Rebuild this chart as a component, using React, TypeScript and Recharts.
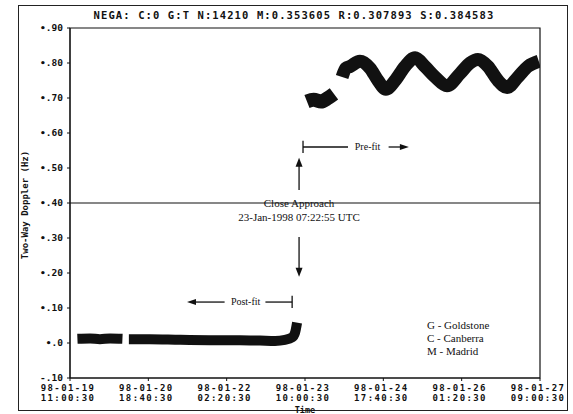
import React from "react";
import {
  ComposedChart,
  Line,
  XAxis,
  YAxis,
  ReferenceLine,
  ReferenceDot,
  ReferenceArea,
} from "recharts";

// hours since 98-01-19 11:00:30
const xTicks = [0, 31.667, 63.333, 95, 126.667, 158.333, 190];
const tickDates = ["98-01-19", "98-01-20", "98-01-22", "98-01-23", "98-01-24", "98-01-26", "98-01-27"];
const tickTimes = ["11:00:30", "18:40:30", "02:20:30", "10:00:30", "17:40:30", "01:20:30", "09:00:30"];

const yTicks = [-0.1, 0, 0.1, 0.2, 0.3, 0.4, 0.5, 0.6, 0.7, 0.8, 0.9];
const yLabels = ["-.10", "•.0", "•.10", "•.20", "•.30", "•.40", "•.50", "•.60", "•.70", "•.80", "•.90"];

const postFitA = [
  { t: 3.0, v: 0.012 },
  { t: 8.1, v: 0.013 },
  { t: 12.1, v: 0.011 },
  { t: 16.2, v: 0.013 },
  { t: 21.2, v: 0.012 },
];
const postFitB = [
  { t: 23.8, v: 0.011 },
  { t: 32.3, v: 0.011 },
  { t: 44.5, v: 0.009 },
  { t: 56.6, v: 0.008 },
  { t: 68.7, v: 0.008 },
  { t: 76.8, v: 0.007 },
  { t: 82.9, v: 0.006 },
  { t: 86.9, v: 0.009 },
  { t: 89.8, v: 0.016 },
  { t: 91.0, v: 0.03 },
  { t: 91.8, v: 0.058 },
];
const preFitA = [
  { t: 95.8, v: 0.69 },
  { t: 98.5, v: 0.695 },
  { t: 101.5, v: 0.69 },
  { t: 104.3, v: 0.7 },
  { t: 106.7, v: 0.712 },
];
const preFitB = [
  { t: 110.0, v: 0.76 },
  { t: 111.5, v: 0.785 },
  { t: 113.2, v: 0.79 },
  { t: 117.2, v: 0.805 },
  { t: 121.3, v: 0.785 },
  { t: 124.5, v: 0.75 },
  { t: 127.7, v: 0.725 },
  { t: 131.4, v: 0.75 },
  { t: 135.4, v: 0.79 },
  { t: 139.5, v: 0.815 },
  { t: 143.5, v: 0.79 },
  { t: 147.6, v: 0.76 },
  { t: 152.4, v: 0.735 },
  { t: 157.7, v: 0.77 },
  { t: 161.7, v: 0.8 },
  { t: 164.9, v: 0.81 },
  { t: 169.0, v: 0.79 },
  { t: 173.0, v: 0.75 },
  { t: 176.7, v: 0.73 },
  { t: 181.1, v: 0.76 },
  { t: 185.1, v: 0.79 },
  { t: 189.5, v: 0.805 },
];

const closeApproach = 92.6;
const stations = ["G - Goldstone", "C - Canberra", "M - Madrid"];

const mono = "'DejaVu Sans Mono', monospace";
const serif = "'Liberation Serif', serif";

const XTick = (props: any) => {
  const { x, y, index } = props;
  const style = { fontFamily: mono, fontWeight: "bold" as const, fontSize: 9, letterSpacing: 1.4 };
  return (
    <g fill="#111">
      <text x={x - 2} y={y + 8} textAnchor="middle" style={style}>
        {tickDates[index]}
      </text>
      <text x={x - 2} y={y + 17.5} textAnchor="middle" style={style}>
        {tickTimes[index]}
      </text>
    </g>
  );
};

const YTick = (props: any) => {
  const { x, y, index } = props;
  return (
    <text x={x - 2} y={y + 2.5} textAnchor="end" fontFamily={mono} fontWeight="bold" fontSize={9.5} fill="#111">
      {yLabels[index]}
    </text>
  );
};

const textAt = (s: string, anchor = "middle", size = 11) => (p: any) => (
  <text x={p.cx} y={p.cy} textAnchor={anchor} fontFamily={serif} fontSize={size} fill="#111">
    {s}
  </text>
);
const upHead = (p: any) => <path d={`M${p.cx},${p.cy} l-3.5,9 l7,0 z`} fill="#111" />;
const downHead = (p: any) => <path d={`M${p.cx},${p.cy} l-3.5,-9 l7,0 z`} fill="#111" />;
const leftHead = (p: any) => <path d={`M${p.cx},${p.cy} l9,-3 l0,6 z`} fill="#111" />;
const rightHead = (p: any) => <path d={`M${p.cx},${p.cy} l-9,-3 l0,6 z`} fill="#111" />;

const band = { stroke: "#111", dot: false, isAnimationActive: false, type: "monotone" as const, strokeLinejoin: "round" as const };

export default function App() {
  return (
    <div style={{ position: "relative", width: 573, height: 414, background: "#fff" }}>
      <style>{`body{margin:0}`}</style>
      <div
        style={{
          position: "absolute",
          left: 18,
          top: 5,
          width: 548,
          height: 404,
          border: "1.5px solid #222",
        }}
      />
      <div
        style={{
          position: "absolute",
          top: 9,
          left: 0,
          width: 588,
          textAlign: "center",
          fontFamily: mono,
          fontWeight: "bold",
          fontSize: 10.5,
          letterSpacing: 1.1,
          color: "#111",
          whiteSpace: "nowrap",
        }}
      >
        NEGA: C:0 G:T N:14210 M:0.353605 R:0.307893 S:0.384583
      </div>
      <ComposedChart
        width={573}
        height={414}
        margin={{ top: 28, right: 33, bottom: 6, left: 10 }}
        style={{ position: "absolute", left: 0, top: 0 }}
      >
        <XAxis
          dataKey="t"
          type="number"
          domain={[0, 190]}
          ticks={xTicks}
          tick={<XTick />}
          tickSize={3}
          height={30}
          stroke="#111"
          interval={0}
          allowDataOverflow
          label={{
            value: "Time",
            position: "insideBottom",
            offset: -5,
            style: { fontFamily: mono, fontWeight: "bold", fontSize: 8.5, fill: "#111" },
          }}
        />
        <YAxis
          type="number"
          domain={[-0.1, 0.9]}
          ticks={yTicks}
          tick={<YTick />}
          tickSize={3}
          width={60}
          stroke="#111"
          interval={0}
          label={{
            content: (p: any) => {
              const vb = p.viewBox;
              const cx = vb.x + 18;
              const cy = vb.y + vb.height / 2 + 2;
              return (
                <text
                  x={cx}
                  y={cy}
                  transform={`rotate(-90 ${cx} ${cy})`}
                  textAnchor="middle"
                  fontFamily={mono}
                  fontWeight="bold"
                  fontSize={9}
                  fill="#111"
                >
                  Two-Way Doppler (Hz)
                </text>
              );
            },
          }}
        />
        <ReferenceArea x1={0} x2={190} y1={-0.1} y2={0.9} fill="none" stroke="#111" strokeWidth={1.2} />
        <ReferenceLine y={0.4} stroke="#111" strokeWidth={1.2} />

        <Line data={postFitA} dataKey="v" strokeWidth={10} {...band} />
        <Line data={postFitB} dataKey="v" strokeWidth={10} {...band} />
        <Line data={preFitA} dataKey="v" strokeWidth={14} {...band} />
        <Line data={preFitB} dataKey="v" strokeWidth={13} {...band} />

        {/* close approach arrows and text */}
        <ReferenceLine segment={[{ x: closeApproach, y: 0.437 }, { x: closeApproach, y: 0.51 }]} stroke="#111" strokeWidth={1.3} />
        <ReferenceDot x={closeApproach} y={0.529} shape={upHead} />
        <ReferenceLine segment={[{ x: closeApproach, y: 0.303 }, { x: closeApproach, y: 0.21 }]} stroke="#111" strokeWidth={1.3} />
        <ReferenceDot x={closeApproach} y={0.189} shape={downHead} />
        <ReferenceDot x={closeApproach} y={0.388} shape={textAt("Close Approach")} />
        <ReferenceDot x={closeApproach} y={0.35} shape={textAt("23-Jan-1998 07:22:55 UTC")} />

        {/* pre-fit marker */}
        <ReferenceLine segment={[{ x: 94.2, y: 0.578 }, { x: 94.2, y: 0.543 }]} stroke="#111" strokeWidth={1.3} />
        <ReferenceLine segment={[{ x: 94.2, y: 0.56 }, { x: 112.4, y: 0.56 }]} stroke="#111" strokeWidth={1.3} />
        <ReferenceDot x={120.3} y={0.551} shape={textAt("Pre-fit", "middle", 10)} />
        <ReferenceLine segment={[{ x: 128.8, y: 0.56 }, { x: 134, y: 0.56 }]} stroke="#111" strokeWidth={1.3} />
        <ReferenceDot x={137} y={0.56} shape={rightHead} />

        {/* post-fit marker */}
        <ReferenceDot x={47.3} y={0.117} shape={leftHead} />
        <ReferenceLine segment={[{ x: 50, y: 0.117 }, { x: 62.5, y: 0.117 }]} stroke="#111" strokeWidth={1.3} />
        <ReferenceDot x={71} y={0.108} shape={textAt("Post-fit", "middle", 10)} />
        <ReferenceLine segment={[{ x: 79, y: 0.117 }, { x: 89.8, y: 0.117 }]} stroke="#111" strokeWidth={1.3} />
        <ReferenceLine segment={[{ x: 89.8, y: 0.135 }, { x: 89.8, y: 0.1 }]} stroke="#111" strokeWidth={1.3} />

        {/* station legend */}
        {stations.map((s, i) => (
          <ReferenceDot key={s} x={144.3} y={0.04 - i * 0.037} shape={textAt(s, "start", 11)} />
        ))}
      </ComposedChart>
    </div>
  );
}
